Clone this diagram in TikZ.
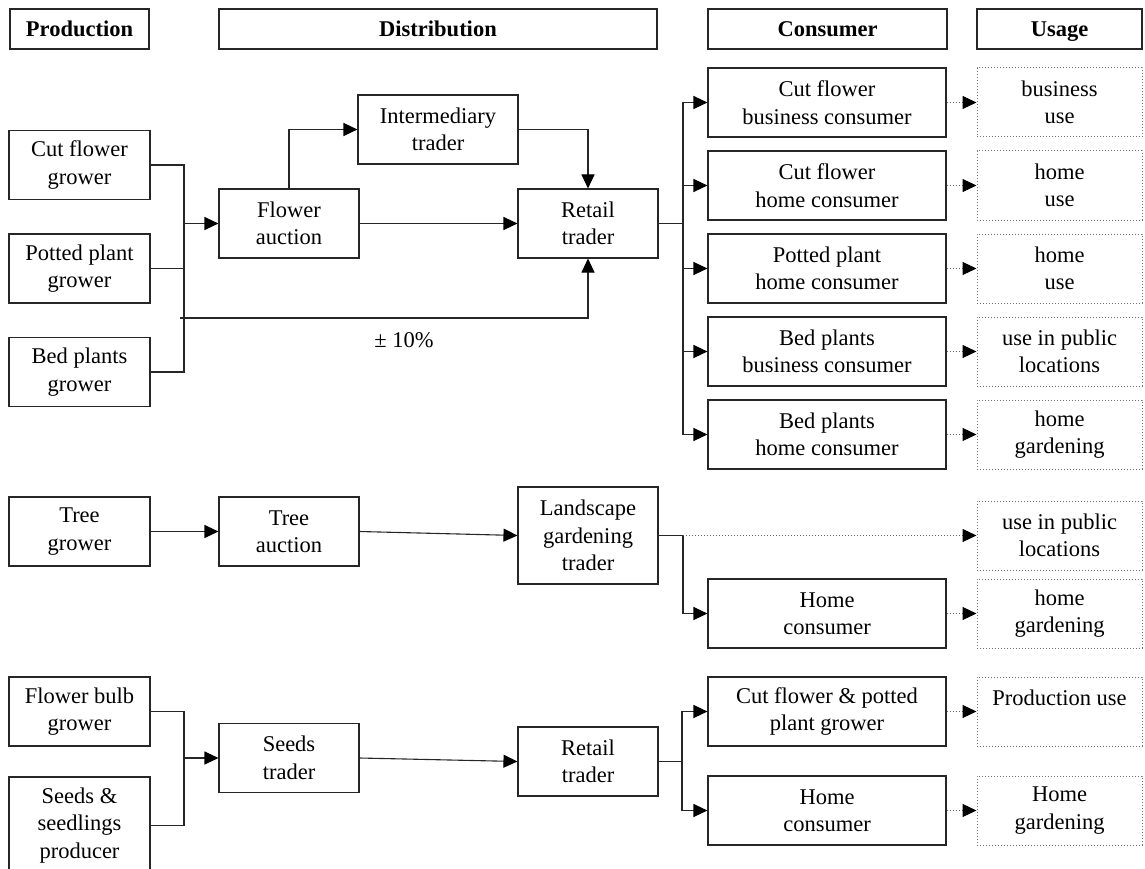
\documentclass[tikz,border=0pt]{standalone}
\usepackage{fontspec}
\setmainfont{Liberation Serif}
\usetikzlibrary{arrows.meta}
\newcommand\diagfont{\fontsize{22.5}{27.5}\selectfont}
\begin{document}
\begin{tikzpicture}[x=1pt,y=-1pt,
  box/.style={draw=black!85, line width=1.1pt, inner sep=0pt, align=center, font=\diagfont, minimum height=69pt},
  head/.style={box, font=\diagfont\bfseries, minimum height=40pt, text height=17.5pt, text depth=2.5pt},
  usagebox/.style={draw=black!55, dotted, line width=1pt, inner sep=0pt, align=center, font=\diagfont, minimum width=165pt, minimum height=69pt},
  link/.style={draw=black!85, line width=1.1pt},
  flow/.style={link, -{Triangle[length=14pt,width=13pt,color=black]}},
  dotflow/.style={draw=black!60, dotted, line width=1pt, -{Triangle[length=14pt,width=13pt,color=black]}},
]
\useasboundingbox (0,0) rectangle (1145,869);
\clip (0,0) rectangle (1145,869);

% column headers
\node[head, minimum width=139pt] (hprod) at (79.5,29) {Production};
\node[head, minimum width=438pt] (hdist) at (438,29) {Distribution};
\node[head, minimum width=239pt] (hcons) at (827.5,29) {Consumer};
\node[head, minimum width=165pt] (huse) at (1059.5,29) {Usage};

% flowers and plants chain
\node[box, minimum width=141pt] (cfg) at (79.5,165) {Cut flower\\grower};
\node[box, minimum width=141pt] (ppg) at (79.5,268.5) {Potted plant\\grower};
\node[box, minimum width=141pt] (bpg) at (79.5,372) {Bed plants\\grower};
\node[box, minimum width=140pt] (fa) at (289,223.5) {Flower\\auction};
\node[box, minimum width=160pt] (it) at (438,129.5) {Intermediary\\trader};
\node[box, minimum width=140pt] (rt) at (588,223.5) {Retail\\trader};

\node[box, minimum width=238pt] (c1) at (827,102.5) {Cut flower\\business consumer};
\node[box, minimum width=238pt] (c2) at (827,185.5) {Cut flower\\home consumer};
\node[box, minimum width=238pt] (c3) at (827,268.5) {Potted plant\\home consumer};
\node[box, minimum width=238pt] (c4) at (827,351.5) {Bed plants\\business consumer};
\node[box, minimum width=238pt] (c5) at (827,434.5) {Bed plants\\home consumer};

\node[usagebox] (u1) at (1059.5,102.5) {business\\use};
\node[usagebox] (u2) at (1059.5,185.5) {home\\use};
\node[usagebox] (u3) at (1059.5,268.5) {home\\use};
\node[usagebox] (u4) at (1059.5,351.5) {use in public\\locations};
\node[usagebox] (u5) at (1059.5,434.5) {home\\gardening};

\coordinate (jA) at (184,223.5);
\draw[link] (cfg.east) -| (jA) |- (bpg.east);
\draw[link] (ppg.east) -- (ppg.east -| jA);
\draw[flow] (jA) -- (fa.west);
\draw[flow] (fa.north) |- (it.west);
\draw[flow] (it.east) -| (rt.north);
\draw[flow] (fa.east) -- (rt.west);

\coordinate (pStart) at (180,318);
\draw[flow] (pStart) -| (rt.south);
\node[font=\diagfont, inner sep=0pt] (pct) at (404,340) {± 10\%};

\coordinate (jB) at (683,223.5);
\draw[link] (rt.east) -- (jB);
\draw[link] (c1.west -| jB) -- (c5.west -| jB);
\foreach \i in {1,...,5} {
  \draw[flow] (c\i.west -| jB) -- (c\i.west);
  \draw[dotflow] (c\i.east) -- (u\i.west);
}

% trees chain
\node[box, minimum width=141pt] (tg) at (79.5,531.5) {Tree\\grower};
\node[box, minimum width=140pt] (ta) at (289,531.5) {Tree\\auction};
\node[box, minimum width=140pt, minimum height=97pt] (la) at (588,535.5) {Landscape\\gardening\\trader};
\node[box, minimum width=238pt] (hc1) at (827,613.5) {Home\\consumer};
\node[usagebox] (pub) at (1059.5,535.5) {use in public\\locations};
\node[usagebox] (hgd) at (1059.5,613.5) {home\\gardening};

\draw[flow] (tg.east) -- (ta.west);
\draw[flow] (ta.east) -- (la.west);
\coordinate (jC) at (683,535.5);
\draw[link] (la.east) -- (jC);
\draw[flow] (jC) |- (hc1.west);
\draw[dotflow] (jC) -- (pub.west);
\draw[dotflow] (hc1.east) -- (hgd.west);

% bulbs and seeds chain
\node[box, minimum width=141pt] (fbg) at (79.5,711.5) {Flower bulb\\grower};
\node[box, minimum width=141pt, minimum height=97pt] (ssp) at (79.5,825.5) {Seeds \&\\seedlings\\producer};
\node[box, minimum width=140pt] (st) at (289,758) {Seeds\\trader};
\node[box, minimum width=140pt] (rt2) at (588,761.5) {Retail\\trader};
\node[box, minimum width=238pt] (cfp) at (827,711.5) {Cut flower \& potted\\plant grower};
\node[box, minimum width=238pt] (hc2) at (827,810.5) {Home\\consumer};
\node[usagebox] (pu) at (1059.5,711.5) {Production use\\\phantom{x}};
\node[usagebox] (hg3) at (1059.5,810.5) {Home\\gardening};

\coordinate (jD) at (184,758);
\draw[link] (fbg.east) -| (jD) |- (ssp.east);
\draw[flow] (jD) -- (st.west);
\draw[flow] (st.east) -- (rt2.west);
\coordinate (jE) at (682,761.5);
\draw[link] (rt2.east) -- (jE);
\draw[flow] (jE) |- (cfp.west);
\draw[flow] (jE) |- (hc2.west);
\draw[dotflow] (cfp.east) -- (pu.west);
\draw[dotflow] (hc2.east) -- (hg3.west);
\end{tikzpicture}
\end{document}
